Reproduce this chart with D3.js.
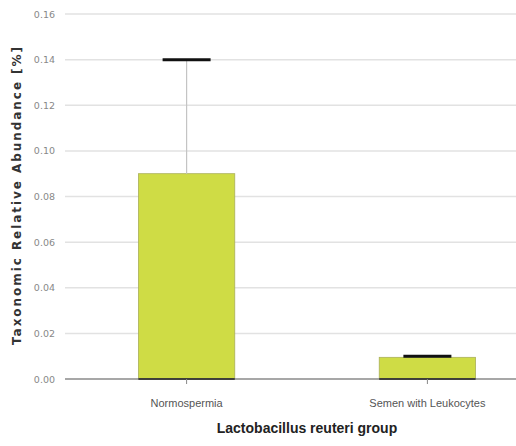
<!DOCTYPE html>
<html>
<head>
<meta charset="utf-8">
<script src="https://cdn.jsdelivr.net/npm/d3@7"></script>
<style>
  body { margin: 0; background: #fff; }
  svg { display: block; }
</style>
</head>
<body>
<script>
// values
var categories = ["Normospermia", "Semen with Leukocytes"];
var means = [0.09, 0.0095];
var upper = [0.14, 0.0100];
var yTicks = [0, 0.02, 0.04, 0.06, 0.08, 0.10, 0.12, 0.14, 0.16];

var W = 516, H = 446;
var svg = d3.select("body").append("svg").attr("width", W).attr("height", H);

var y = d3.scaleLinear().domain([0, 0.16]).range([379, 14]);
var x = d3.scaleBand().domain(categories).range([65, 549])
  .paddingInner(0.6).paddingOuter(0.305);

// gridlines
svg.append("g").selectAll("line").data(yTicks.slice(1)).enter().append("line")
  .attr("x1", 65).attr("x2", W)
  .attr("y1", function(d) { return y(d); }).attr("y2", function(d) { return y(d); })
  .attr("stroke", "#e2e2e2").attr("stroke-width", 1.5);

// y tick labels
svg.append("g").selectAll("text").data(yTicks).enter().append("text")
  .attr("x", 55).attr("y", function(d) { return y(d) + 3.5; })
  .attr("text-anchor", "end")
  .attr("font-family", "DejaVu Sans").attr("font-size", 9.5).attr("fill", "#888")
  .text(function(d) { return d3.format(".2f")(d); });

// bars
var bars = svg.append("g");
bars.selectAll("rect").data(categories).enter().append("rect")
  .attr("x", function(d) { return x(d); })
  .attr("y", function(d, i) { return y(means[i]); })
  .attr("width", x.bandwidth())
  .attr("height", function(d, i) { return y(0) - y(means[i]); })
  .attr("fill", "#cfdc45").attr("stroke", "#aab05a").attr("stroke-width", 0.8);

// error bars
var eb = svg.append("g");
eb.selectAll("line.stem").data(categories).enter().append("line")
  .attr("class", "stem")
  .attr("x1", function(d) { return x(d) + x.bandwidth() / 2; })
  .attr("x2", function(d) { return x(d) + x.bandwidth() / 2; })
  .attr("y1", function(d, i) { return y(means[i]); })
  .attr("y2", function(d, i) { return y(upper[i]); })
  .attr("stroke", "#c4c4c4").attr("stroke-width", 1.2);
eb.selectAll("line.cap").data(categories).enter().append("line")
  .attr("class", "cap")
  .attr("x1", function(d) { return x(d) + x.bandwidth() / 2 - 24; })
  .attr("x2", function(d) { return x(d) + x.bandwidth() / 2 + 24; })
  .attr("y1", function(d, i) { return y(upper[i]); })
  .attr("y2", function(d, i) { return y(upper[i]); })
  .attr("stroke", "#111").attr("stroke-width", 3);

// x axis baseline
svg.append("line").attr("x1", 65).attr("x2", W).attr("y1", y(0)).attr("y2", y(0))
  .attr("stroke", "#8a8a8a").attr("stroke-width", 1.3);
svg.append("g").selectAll("line").data(categories).enter().append("line")
  .attr("x1", function(d) { return x(d); })
  .attr("x2", function(d) { return x(d) + x.bandwidth(); })
  .attr("y1", y(0)).attr("y2", y(0))
  .attr("stroke", "#222").attr("stroke-width", 1.5);

// category ticks + labels
var xt = svg.append("g");
xt.selectAll("line").data(categories).enter().append("line")
  .attr("x1", function(d) { return x(d) + x.bandwidth() / 2; })
  .attr("x2", function(d) { return x(d) + x.bandwidth() / 2; })
  .attr("y1", y(0)).attr("y2", y(0) + 5)
  .attr("stroke", "#888");
xt.selectAll("text").data(categories).enter().append("text")
  .attr("x", function(d) { return x(d) + x.bandwidth() / 2; })
  .attr("y", 407)
  .attr("text-anchor", "middle")
  .attr("font-family", "Liberation Sans Narrow, Liberation Sans, sans-serif")
  .attr("font-size", 11).attr("fill", "#555")
  .text(function(d) { return d; });

// axis titles
svg.append("text")
  .attr("x", (x(categories[0]) + x(categories[1]) + x.bandwidth()) / 2)
  .attr("y", 433)
  .attr("text-anchor", "middle")
  .attr("font-family", "Liberation Sans Narrow, Liberation Sans, sans-serif")
  .attr("font-weight", "bold").attr("font-size", 14).attr("fill", "#222")
  .text("Lactobacillus reuteri group");

svg.append("text")
  .attr("transform", "translate(21,196) rotate(-90)")
  .attr("text-anchor", "middle")
  .attr("font-family", "DejaVu Sans").attr("font-weight", "bold")
  .attr("font-size", 12).attr("fill", "#333")
  .attr("textLength", 298).attr("lengthAdjust", "spacing")
  .text("Taxonomic Relative Abundance [%]");
</script>
</body>
</html>
